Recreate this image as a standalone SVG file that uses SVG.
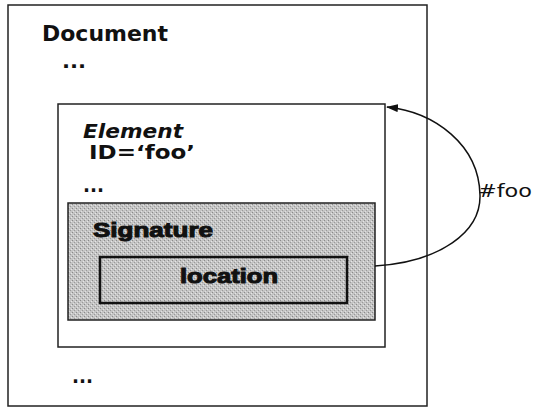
<svg xmlns="http://www.w3.org/2000/svg" width="533" height="410" viewBox="0 0 533 410">
<style>
.box{fill:none;stroke:#222;stroke-width:1.5}
.t{font-family:"DejaVu Sans",Verdana,sans-serif;font-weight:bold;fill:#111}
.h{font-family:"Liberation Sans",Arial,sans-serif;font-weight:900;fill:#111;stroke:#111;stroke-width:1}
.lbl{font-family:"DejaVu Sans",Verdana,sans-serif;fill:#111}
</style>
<defs>
<marker id="ah" viewBox="0 0 12 8" refX="11" refY="4" markerWidth="12" markerHeight="8" orient="auto" markerUnits="userSpaceOnUse">
<path d="M0,0 L12,4 L0,8 z" fill="#111"/>
</marker>
<pattern id="grain" width="4" height="4" patternUnits="userSpaceOnUse">
<rect width="4" height="4" fill="#c4c4c4"/>
<rect x="0" y="0" width="1" height="1" fill="#8a8a8a"/>
<rect x="2" y="2" width="1" height="1" fill="#9a9a9a"/>
<rect x="3" y="1" width="1" height="1" fill="#e6e6e6"/>
<rect x="1" y="3" width="1" height="1" fill="#e0e0e0"/>
</pattern>
</defs>
<rect width="533" height="410" fill="#fff"/>
<g id="document">
<rect class="box" x="8" y="5" width="419" height="401"/>
<text class="t" x="42" y="41" font-size="21" textLength="126" lengthAdjust="spacingAndGlyphs">Document</text>
<text class="t" x="62" y="68" font-size="20" textLength="24" lengthAdjust="spacingAndGlyphs">...</text>
<text class="t" x="72" y="383" font-size="20" textLength="21" lengthAdjust="spacingAndGlyphs">...</text>
</g>
<g id="element">
<rect class="box" x="58" y="104" width="327" height="243"/>
<text class="t" x="83" y="138" font-size="19" font-style="italic" textLength="100" lengthAdjust="spacingAndGlyphs">Element</text>
<text class="t" x="89" y="159" font-size="19" textLength="106" lengthAdjust="spacingAndGlyphs">ID=‘foo’</text>
<text class="t" x="83" y="192" font-size="20" textLength="21" lengthAdjust="spacingAndGlyphs">...</text>
</g>
<g id="signature">
<rect x="68" y="203" width="307" height="117" fill="url(#grain)" stroke="#222" stroke-width="1.5"/>
<text class="h" x="93" y="237" font-size="20" textLength="120" lengthAdjust="spacingAndGlyphs">Signature</text>
</g>
<g id="location">
<rect x="100" y="257" width="247" height="46" fill="none" stroke="#111" stroke-width="2.5"/>
<text class="h" x="180" y="283" font-size="20" textLength="98" lengthAdjust="spacingAndGlyphs">location</text>
</g>
<g id="connectors">
<path d="M375,266 C440,262 481,232 480,195 C479,145 435,112 387,107" fill="none" stroke="#111" stroke-width="1.5" marker-end="url(#ah)"/>
<text class="lbl" x="478" y="197" font-size="18" textLength="54" lengthAdjust="spacingAndGlyphs">#foo</text>
</g>
</svg>
